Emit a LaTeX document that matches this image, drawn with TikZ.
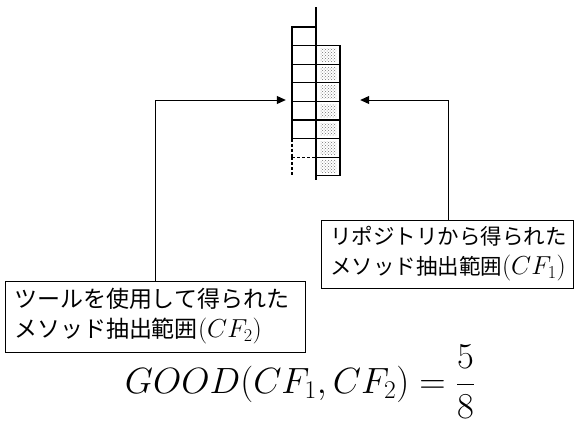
\RequirePackage{fix-cm}
\documentclass[tikz,border=0pt]{standalone}
\usepackage{fontspec}
\newfontfamily\jp{Noto Sans CJK JP}
\usetikzlibrary{patterns,arrows.meta}
\newcommand{\cfmath}[1]{{\fontsize{26}{30}\selectfont$#1$}}
\tikzset{
  cell/.style={draw=black, line width=1.3pt},
  dcell/.style={draw=black, line width=1.1pt, dash pattern=on 3pt off 2pt},
  shade/.style={pattern=crosshatch dots, pattern color=black!55},
  conn/.style={draw=black, line width=1pt},
  arr/.style={conn, -{Triangle[length=9pt,width=8pt]}},
  labelbox/.style={draw=black, line width=1pt, align=left, inner ysep=0pt, anchor=center},
  colnode/.style={inner sep=0pt, minimum width=24pt}
}
\begin{document}
\begin{tikzpicture}[x=1pt,y=-1pt]
\useasboundingbox (0,0) rectangle (576,432);
% central axis
\draw[line width=1.4pt] (316,7) -- (316,180);
% left column (CF2)
\foreach \i in {0,...,5} {
  \draw[cell] (292,{27+18.6*\i}) rectangle (316,{27+18.6*(\i+1)});
}
\foreach \i in {6,7} {
  \draw[dcell] (292,{27+18.6*\i}) -- (292,{27+18.6*(\i+1)});
}
\draw[dcell] (292,157.2) -- (316,157.2);
% right column (CF1)
\foreach \i in {1,...,7} {
  \fill[shade] (320,{27+18.6*\i+3}) rectangle (336,{27+18.6*(\i+1)-3});
  \draw[cell] (316,{27+18.6*\i}) rectangle (340,{27+18.6*(\i+1)});
}
\node[colnode, minimum height=148.8pt] (cf2) at (304,101.4) {};
\node[colnode, minimum height=130.2pt] (cf1) at (328,110.7) {};
% label boxes
\node[labelbox, minimum width=300pt, minimum height=71pt, text width=282pt, inner xsep=9pt,
      font=\jp\fontsize{23}{30}\selectfont] (lbox) at (155,316.5)
  {ツールを使用して得られた\\メソッド抽出範囲\cfmath{(CF_2)}};
\node[labelbox, minimum width=252pt, minimum height=68pt, text width=234pt, inner xsep=9pt,
      font=\jp\fontsize{21.5}{30}\selectfont] (rbox) at (447,254)
  {リポジトリから得られた\\メソッド抽出範囲\cfmath{(CF_1)}};
% connectors
\coordinate (lc) at (155,100);
\coordinate (rc) at (448,100);
\draw[arr, shorten >=6pt] (lbox.north) -- (lc) -- (cf2.west |- lc);
\draw[arr, shorten >=20pt] (rbox.north -| rc) -- (rc) -- (cf1.east |- rc);
% equation
\node[inner sep=0pt, anchor=base, font=\fontsize{36.5}{44}\selectfont] (eq) at (300,393)
  {$\displaystyle GOOD(CF_1,CF_2)=\frac{5}{8}$};
\end{tikzpicture}
\end{document}
